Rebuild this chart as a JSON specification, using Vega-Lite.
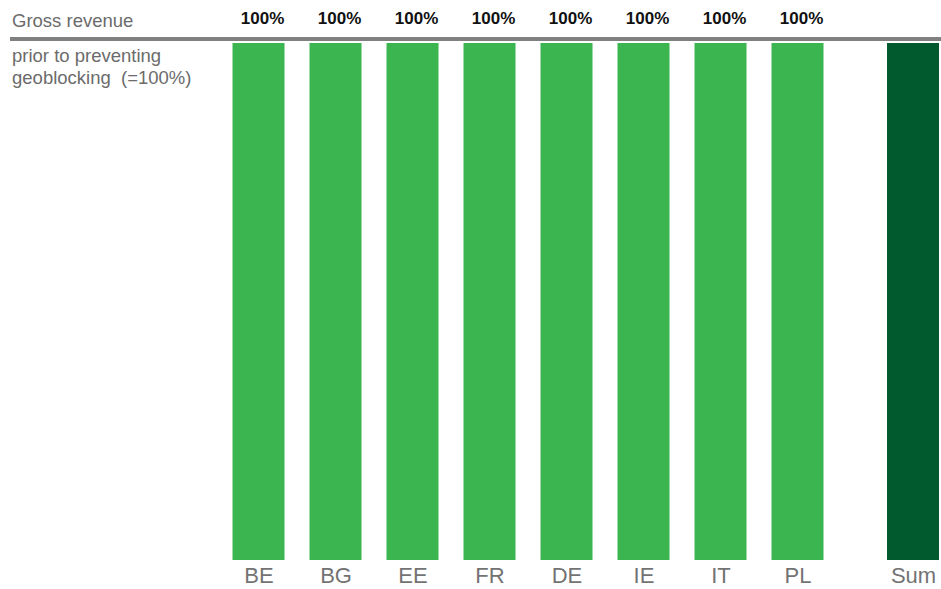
{
  "$schema": "https://vega.github.io/schema/vega-lite/v6.json",
  "autosize": "none",
  "width": 931,
  "height": 517,
  "padding": {"left": 10, "top": 43, "right": 0, "bottom": 29},
  "background": "white",
  "config": {"view": {"stroke": null}, "font": "Liberation Sans"},
  "data": {
    "values": [
      {"country": "BE", "share": 1.0, "kind": "Country"},
      {"country": "BG", "share": 1.0, "kind": "Country"},
      {"country": "EE", "share": 1.0, "kind": "Country"},
      {"country": "FR", "share": 1.0, "kind": "Country"},
      {"country": "DE", "share": 1.0, "kind": "Country"},
      {"country": "IE", "share": 1.0, "kind": "Country"},
      {"country": "IT", "share": 1.0, "kind": "Country"},
      {"country": "PL", "share": 1.0, "kind": "Country"},
      {"country": "Sum", "share": 1.0, "kind": "Sum"}
    ]
  },
  "layer": [
    {
      "mark": {"type": "bar", "size": 52},
      "encoding": {
        "x": {
          "field": "country",
          "type": "nominal",
          "sort": null,
          "scale": {
            "type": "point",
            "domain": ["_a", "_b", "_c", "_d", "_e", "_f", "BE", "_1", "BG", "_2", "EE", "_3", "FR", "_4", "DE", "_5", "IE", "_6", "IT", "_7", "PL", "_8", "_9", "Sum"],
            "padding": 0.591,
            "align": 0.385
          },
          "axis": {
            "values": ["BE", "BG", "EE", "FR", "DE", "IE", "IT", "PL", "Sum"],
            "title": null,
            "ticks": false,
            "domain": false,
            "labelAngle": 0,
            "labelFontSize": 22,
            "labelColor": "#737373",
            "labelPadding": 5,
            "labelFont": "Liberation Sans"
          }
        },
        "y": {
          "field": "share",
          "type": "quantitative",
          "scale": {"domain": [0, 1], "nice": false},
          "axis": null
        },
        "color": {
          "field": "kind",
          "type": "nominal",
          "scale": {"domain": ["Country", "Sum"], "range": ["#3bb54f", "#005a2e"]},
          "legend": null
        }
      }
    },
    {
      "transform": [{"filter": "datum.kind === 'Country'"}],
      "mark": {"type": "text", "fontWeight": "bold", "fontSize": 17, "color": "#111111", "baseline": "middle", "dx": 4, "yOffset": -24},
      "encoding": {
        "x": {"field": "country", "type": "nominal"},
        "y": {"field": "share", "type": "quantitative"},
        "text": {"field": "share", "type": "quantitative", "format": ".0%"}
      }
    },
    {
      "mark": {"type": "rule", "color": "#808080", "strokeWidth": 4, "yOffset": -4},
      "encoding": {
        "y": {"datum": 1, "type": "quantitative"}
      }
    },
    {
      "data": {"values": [{"note": "Gross revenue", "level": 1}]},
      "mark": {"type": "text", "align": "left", "baseline": "middle", "fontSize": 18.5, "color": "#6b6b6b", "dx": -15.5, "yOffset": -22},
      "encoding": {
        "x": {"datum": "_a", "type": "nominal"},
        "y": {"field": "level", "type": "quantitative"},
        "text": {"field": "note"}
      }
    },
    {
      "data": {"values": [{"note": ["prior to preventing", "geoblocking\u00a0\u00a0(=100%)"], "level": 1}]},
      "mark": {"type": "text", "align": "left", "baseline": "top", "fontSize": 18.5, "lineHeight": 22, "color": "#6b6b6b", "dx": -15.5, "yOffset": 4},
      "encoding": {
        "x": {"datum": "_a", "type": "nominal"},
        "y": {"field": "level", "type": "quantitative"},
        "text": {"field": "note"}
      }
    }
  ]
}
